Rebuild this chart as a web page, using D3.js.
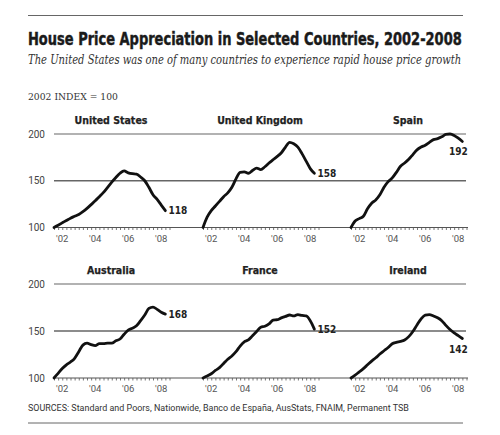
<!DOCTYPE html>
<html>
<head>
<meta charset="utf-8">
<script src="https://cdn.jsdelivr.net/npm/d3@7"></script>
<style>
  body { margin: 0; background: #fff; }
  svg { display: block; }
</style>
</head>
<body>
<div id="chart"></div>
<script>
// DATA
const quarters = d3.range(28).map(i => 2002 + i * 0.25);
const countries = ["United States", "United Kingdom", "Spain", "Australia", "France", "Ireland"];
const usValues = [100, 102.5, 105, 107.5, 110, 112, 114, 117, 120.5, 124.5, 128.5, 133, 137.5, 143, 148.5, 153.5,
    158, 160.5, 158.5, 157.5, 157, 154, 150, 143, 135, 130, 124, 118];
const ukValues = [100, 111, 118, 123, 128, 133, 137, 143, 152, 159, 159.5, 158, 161, 163.5, 162, 165,
    169, 172.5, 176, 180, 186, 191, 189.5, 186, 179, 171, 163, 158];
const spainValues = [100, 107, 109.5, 112, 120, 126, 129.5, 135, 143, 149, 153, 159, 165.5, 169, 173, 178,
    183, 186, 188, 191, 194, 195, 197, 199.5, 200, 198.5, 195.5, 192];
const australiaValues = [100, 105, 110, 114, 117, 121, 128, 135, 137, 135.5, 134.5, 136.5, 136.5, 137, 137, 139.5,
    141.5, 146.5, 151, 153, 155.5, 161, 167, 174, 175.5, 173, 170, 168];
const franceValues = [100, 102, 104.5, 108, 111, 115.5, 120, 123.5, 128, 134, 138.5, 140.5, 145, 149.5, 154, 155,
    157.5, 161.5, 162, 164, 165.5, 167, 166, 167.5, 166.5, 166, 161, 152];
const irelandValues = [100, 103, 106.5, 110, 114, 118, 121.5, 125.5, 129, 132.5, 136.5, 138, 139, 140.5, 144, 149.5,
    156.5, 163, 167, 167.5, 166, 164, 161, 156, 151.5, 148, 145, 142];
const seriesValues = [usValues, ukValues, spainValues, australiaValues, franceValues, irelandValues];
const endLabels = ["118", "158", "192", "168", "152", "142"];
const yTicks = [100, 150, 200];
const yearLabels = [2002, 2004, 2006, 2008];

// SETUP
const width = 500, height = 435;
const svg = d3.select('#chart')
    .append('svg')
    .attr('width', width)
    .attr('height', height);

const left = 28, right = 463;
const sans = "Roboto, 'Liberation Sans', sans-serif";
const cond = "'DejaVu Sans Condensed', 'Liberation Sans Narrow', sans-serif";
const serif = "'DejaVu Serif', 'Liberation Serif', serif";

// squeeze a text horizontally so it spans exactly w pixels
function fitWidth(sel, x, y, w) {
    const natural = sel.node().getComputedTextLength();
    sel.attr("x", 0).attr("y", 0)
        .attr("transform", `translate(${x},${y}) scale(${w / natural},1)`);
}

// header
svg.append("line")
    .attr("x1", left).attr("x2", right)
    .attr("y1", 15.5).attr("y2", 15.5)
    .attr("stroke", "#666").attr("stroke-width", 1);

const title = svg.append("text")
    .attr("font-family", cond)
    .attr("font-weight", "bold")
    .attr("font-size", 18)
    .attr("fill", "#1a1a1a")
    .attr("stroke", "#1a1a1a")
    .attr("stroke-width", 0.45)
    .text("House Price Appreciation in Selected Countries, 2002-2008");
fitWidth(title, left, 45, 434);

const subtitle = svg.append("text")
    .attr("font-family", serif)
    .attr("font-style", "italic")
    .attr("font-size", 12.5)
    .attr("fill", "#333")
    .text("The United States was one of many countries to experience rapid house price growth");
fitWidth(subtitle, left, 64, 434);

const indexNote = svg.append("text")
    .attr("font-family", serif)
    .attr("font-size", 9.5)
    .attr("fill", "#333")
    .text("2002 INDEX = 100");
fitWidth(indexNote, left, 100, 90);

// panels
const colX = [54, 203, 351];
const rowY = [[227.5, 134], [378, 284]];
const yearWidth = 16.5;

rowY.forEach((r, row) => {
    const yScale = d3.scaleLinear().domain([100, 200]).range(r);
    const g = svg.append("g");

    // grid lines across the whole row
    g.selectAll("line.grid")
        .data(yTicks.slice(1))
        .enter()
        .append("line")
        .attr("class", "grid")
        .attr("x1", colX[0]).attr("x2", 466)
        .attr("y1", d => yScale(d)).attr("y2", d => yScale(d))
        .attr("stroke", d => d === 200 ? "#999" : "#666")
        .attr("stroke-width", 1.3);

    g.append("line")
        .attr("x1", colX[0]).attr("x2", 468)
        .attr("y1", yScale(100)).attr("y2", yScale(100))
        .attr("stroke", "#555").attr("stroke-width", 1.2);

    g.selectAll("text.ylab")
        .data(yTicks)
        .enter()
        .append("text")
        .attr("class", "ylab")
        .attr("x", 45)
        .attr("y", d => yScale(d) + 3.5)
        .attr("text-anchor", "end")
        .attr("font-family", sans)
        .attr("font-size", 10)
        .attr("fill", "#444")
        .text(d => d);

    colX.forEach((x0, col) => {
        const i = row * 3 + col;
        const xScale = d3.scaleLinear()
            .domain([2002, 2009])
            .range([x0, x0 + 7 * yearWidth]);

        // quarterly ticks
        const axis = d3.axisBottom(xScale)
            .tickValues(d3.range(2002, 2009.01, 0.25))
            .tickSize(2.5)
            .tickFormat("");
        const ax = g.append("g")
            .attr("transform", `translate(0,${yScale(100)})`)
            .call(axis);
        ax.select(".domain").remove();
        ax.selectAll(".tick line").attr("stroke", "#555").attr("stroke-width", 0.8);

        // year labels, centred on the year
        g.selectAll(null)
            .data(yearLabels)
            .enter()
            .append("text")
            .attr("x", d => xScale(d + 0.5))
            .attr("y", yScale(100) + 14)
            .attr("text-anchor", "middle")
            .attr("font-family", sans)
            .attr("font-size", 9.5)
            .attr("fill", "#555")
            .text(d => "'" + String(d).slice(2));

        // panel title
        g.append("text")
            .attr("x", x0 + 57)
            .attr("y", yScale(200) - 10)
            .attr("text-anchor", "middle")
            .attr("font-family", cond)
            .attr("font-weight", "bold")
            .attr("font-size", 10.5)
            .attr("fill", "#222")
            .attr("stroke", "#222")
            .attr("stroke-width", 0.25)
            .text(countries[i]);

        const vals = seriesValues[i];
        const line = d3.line()
            .x((d, k) => xScale(quarters[k]))
            .y(d => yScale(d))
            .curve(d3.curveMonotoneX);

        g.append("path")
            .datum(vals)
            .attr("d", line)
            .attr("fill", "none")
            .attr("stroke", "#111")
            .attr("stroke-width", 2.8)
            .attr("stroke-linejoin", "round")
            .attr("stroke-linecap", "round");

        // end label: to the right, or below when near the panel edge
        const lastX = xScale(quarters[vals.length - 1]);
        const lastY = yScale(vals[vals.length - 1]);
        const below = col === 2;
        g.append("text")
            .attr("x", below ? lastX - 4 : lastX + 3)
            .attr("y", below ? lastY + 14 : lastY + 3.5)
            .attr("text-anchor", below ? "middle" : "start")
            .attr("font-family", cond)
            .attr("font-weight", "bold")
            .attr("font-size", 10)
            .attr("fill", "#222")
            .text(endLabels[i]);
    });
});

// footer
const sources = svg.append("text")
    .attr("font-family", sans)
    .attr("font-size", 9)
    .attr("fill", "#333")
    .text("SOURCES: Standard and Poors, Nationwide, Banco de España, AusStats, FNAIM, Permanent TSB");
fitWidth(sources, left, 411, 381);

svg.append("line")
    .attr("x1", left).attr("x2", right)
    .attr("y1", 423).attr("y2", 423)
    .attr("stroke", "#666").attr("stroke-width", 1);
</script>
</body>
</html>
